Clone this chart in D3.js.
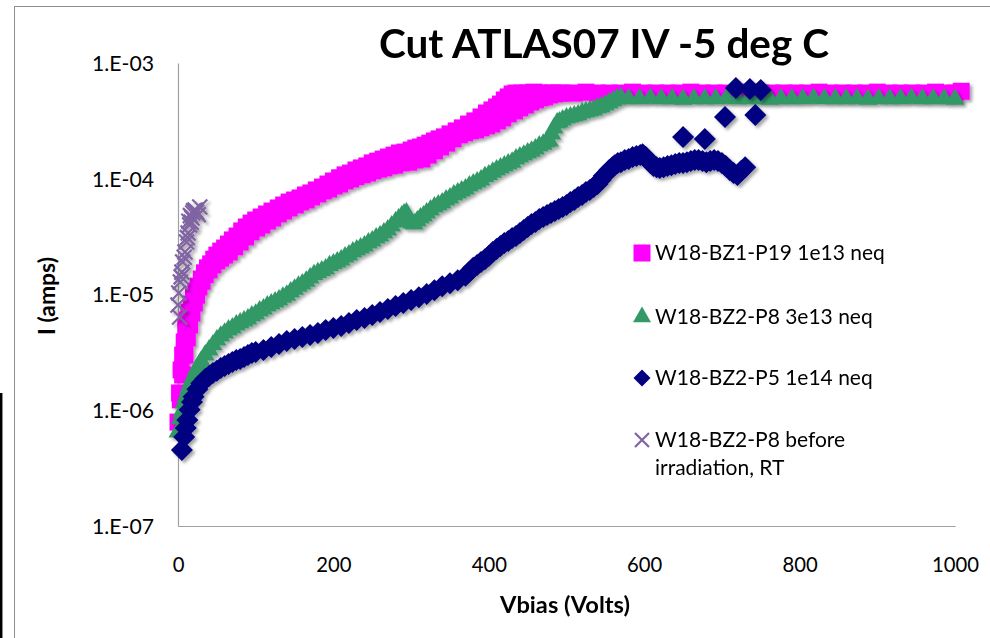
<!DOCTYPE html>
<html>
<head>
<meta charset="utf-8">
<script src="https://cdn.jsdelivr.net/npm/d3@7"></script>
<style>
  body { margin: 0; background: #fff; }
  text { font-family: Lato, 'Open Sans', sans-serif; fill: #000; }
</style>
</head>
<body>
<script>
const width = 990
const height = 638

// W18-BZ1-P19 1e13 neq, first sweep
const pinkV1 = [0, 2, 4, 6, 8, 10, 12, 14, 17, 20, 23, 26, 30, 34, 38, 42, 46, 50, 55, 60,
  65, 70, 76, 82, 88, 94, 100, 107, 114, 121, 129, 136, 143, 150, 157, 164, 171, 178, 186, 193,
  200, 208, 215, 222, 229, 236, 243, 250, 257, 264, 271, 278, 285, 292, 300, 306, 312, 318, 324, 330,
  336, 343, 350, 358, 366, 374, 382, 390, 397, 404, 410, 415, 420, 425, 430, 435,
  442, 450, 458, 466, 474, 482, 490]
const pinkI1 = [7.9e-7, 1.41e-6, 2.23e-6, 3.0e-6, 3.89e-6, 5.14e-6, 6.02e-6, 7.05e-6, 8.27e-6, 9.48e-6,
  1.07e-5, 1.18e-5, 1.36e-5, 1.54e-5, 1.7e-5, 1.84e-5, 2.02e-5, 2.19e-5, 2.37e-5, 2.52e-5,
  2.73e-5, 2.96e-5, 3.2e-5, 3.54e-5, 3.83e-5, 4.14e-5, 4.4e-5, 4.67e-5, 4.96e-5, 5.26e-5,
  5.59e-5, 5.93e-5, 6.29e-5, 6.55e-5, 6.82e-5, 7.24e-5, 7.54e-5, 8.0e-5, 8.48e-5, 9.0e-5,
  9.56e-5, 1.02e-4, 1.08e-4, 1.12e-4, 1.19e-4, 1.24e-4, 1.29e-4, 1.37e-4, 1.42e-4, 1.48e-4,
  1.54e-4, 1.6e-4, 1.67e-4, 1.7e-4, 1.77e-4, 1.84e-4, 1.88e-4, 1.95e-4, 2.03e-4, 2.12e-4,
  2.21e-4, 2.3e-4, 2.44e-4, 2.59e-4, 2.75e-4, 2.97e-4, 3.16e-4, 3.42e-4, 3.7e-4, 3.93e-4,
  4.17e-4, 4.42e-4, 4.79e-4, 5.09e-4, 5.4e-4, 5.5e-4,
  5.5e-4, 5.5e-4, 5.6e-4, 5.5e-4, 5.5e-4, 5.5e-4, 5.5e-4]

// W18-BZ1-P19 1e13 neq, second sweep and compliance plateau
const pinkV2 = [3, 6, 9, 12, 15, 18, 21, 24, 27, 31, 35, 40, 45, 50, 55, 60, 66, 73, 80, 87,
  94, 101, 108, 115, 122, 129, 136, 143, 151, 158, 165, 172, 180, 187, 194, 201, 208, 215, 222, 229,
  237, 244, 251, 258, 265, 272, 279, 288, 297, 305, 314, 322, 330, 338, 346, 354, 362, 369, 376, 383,
  390, 397, 404, 411, 418, 425, 433, 440, 447, 454, 460, 466, 472, 478, 485,
  495, 510, 525, 540, 555, 570, 585, 600, 615, 630, 645, 660, 675, 690, 705, 720, 735, 750, 765, 780,
  795, 810, 825, 840, 855, 870, 885, 900, 915, 930, 945, 960, 975, 990, 1000, 1008]
const pinkI2 = [1.23e-6, 2.02e-6, 3.0e-6, 4.21e-6, 5.45e-6, 6.91e-6, 8.44e-6, 9.86e-6, 1.16e-5, 1.3e-5,
  1.48e-5, 1.63e-5, 1.8e-5, 1.95e-5, 2.06e-5, 2.19e-5, 2.33e-5, 2.58e-5, 2.84e-5, 3.14e-5,
  3.47e-5, 3.75e-5, 3.98e-5, 4.31e-5, 4.58e-5, 4.96e-5, 5.26e-5, 5.59e-5, 5.93e-5, 6.29e-5,
  6.55e-5, 6.96e-5, 7.38e-5, 7.84e-5, 8.15e-5, 8.65e-5, 9.0e-5, 9.56e-5, 9.95e-5, 1.04e-4,
  1.08e-4, 1.12e-4, 1.17e-4, 1.21e-4, 1.24e-4, 1.29e-4, 1.31e-4, 1.37e-4, 1.39e-4, 1.45e-4,
  1.48e-4, 1.6e-4, 1.74e-4, 1.88e-4, 2.03e-4, 2.21e-4, 2.39e-4, 2.49e-4, 2.59e-4, 2.64e-4,
  2.75e-4, 2.86e-4, 2.97e-4, 3.16e-4, 3.35e-4, 3.63e-4, 3.85e-4, 4.09e-4, 4.33e-4, 4.6e-4,
  4.79e-4, 4.99e-4, 5.09e-4, 5.29e-4, 5.4e-4,
  5.5e-4, 5.5e-4, 5.6e-4, 5.5e-4, 5.5e-4, 5.5e-4, 5.6e-4, 5.5e-4, 5.5e-4, 5.5e-4, 5.5e-4, 5.6e-4,
  5.5e-4, 5.5e-4, 5.5e-4, 5.5e-4, 5.6e-4, 5.5e-4, 5.5e-4, 5.5e-4, 5.5e-4, 5.5e-4, 5.6e-4, 5.5e-4,
  5.5e-4, 5.5e-4, 5.5e-4, 5.6e-4, 5.5e-4, 5.5e-4, 5.5e-4, 5.5e-4, 5.6e-4, 5.5e-4, 5.5e-4, 5.7e-4]

// W18-BZ2-P8 3e13 neq
const greenV = [0, 3, 5, 8, 10, 13, 15, 18, 20, 23, 25, 28, 30, 35, 40, 45, 50, 55, 60, 65,
  70, 75, 80, 85, 90, 95, 100, 105, 110, 115, 120, 125, 130, 135, 140, 145, 150, 155, 160, 165,
  170, 175, 180, 185, 190, 195, 200, 205, 210, 215, 220, 225, 230, 235, 240, 245, 250, 255, 260, 265,
  270, 275, 280, 284, 288, 291, 294, 296, 298, 301, 304, 308, 312, 316, 320, 325, 330, 335, 340, 345,
  350, 355, 360, 365, 370, 375, 380, 385, 390, 395, 400, 405, 410, 415, 420, 425, 430, 435, 440, 445,
  450, 455, 460, 465, 470, 474, 478, 481, 484, 488, 491, 495, 500, 505, 510, 515, 520, 525, 530, 535,
  540, 545, 550, 555, 560, 565, 570,
  580, 594, 608, 622, 636, 650, 664, 678, 692, 706, 720, 734, 748, 762, 776, 790, 804, 818, 832, 846,
  860, 874, 888, 902, 916, 930, 944, 958, 972, 986, 1000]
const greenI = [6.49e-7, 8.44e-7, 9.71e-7, 1.16e-6, 1.31e-6, 1.5e-6, 1.65e-6, 1.82e-6, 1.98e-6, 2.19e-6,
  2.32e-6, 2.51e-6, 2.67e-6, 3.0e-6, 3.31e-6, 3.67e-6, 4.05e-6, 4.37e-6, 4.64e-6, 4.93e-6,
  5.14e-6, 5.45e-6, 5.67e-6, 5.9e-6, 6.14e-6, 6.51e-6, 6.77e-6, 7.19e-6, 7.49e-6, 7.95e-6,
  8.27e-6, 8.61e-6, 8.96e-6, 9.48e-6, 9.86e-6, 1.05e-5, 1.11e-5, 1.18e-5, 1.23e-5, 1.3e-5,
  1.39e-5, 1.48e-5, 1.54e-5, 1.6e-5, 1.66e-5, 1.77e-5, 1.84e-5, 1.91e-5, 1.99e-5, 2.11e-5,
  2.19e-5, 2.33e-5, 2.42e-5, 2.52e-5, 2.63e-5, 2.79e-5, 2.9e-5, 3.08e-5, 3.2e-5, 3.4e-5,
  3.61e-5, 3.9e-5, 4.23e-5, 4.49e-5, 4.76e-5, 4.96e-5, 5.06e-5, 4.67e-5, 4.31e-5, 4.14e-5,
  4.06e-5, 4.31e-5, 4.58e-5, 4.76e-5, 5.06e-5, 5.37e-5, 5.7e-5, 5.93e-5, 6.17e-5, 6.55e-5,
  6.82e-5, 7.24e-5, 7.54e-5, 7.84e-5, 8.15e-5, 8.65e-5, 9.0e-5, 9.37e-5, 9.75e-5, 1.04e-4,
  1.08e-4, 1.14e-4, 1.19e-4, 1.24e-4, 1.29e-4, 1.34e-4, 1.39e-4, 1.48e-4, 1.54e-4, 1.6e-4,
  1.67e-4, 1.73e-4, 1.81e-4, 1.92e-4, 1.99e-4, 2.08e-4, 2.12e-4, 2.44e-4, 2.75e-4, 3.03e-4,
  3.09e-4, 3.22e-4, 3.35e-4, 3.42e-4, 3.49e-4, 3.56e-4, 3.7e-4, 3.78e-4, 3.85e-4, 3.93e-4,
  4.09e-4, 4.17e-4, 4.33e-4, 4.51e-4, 4.69e-4, 4.89e-4, 4.99e-4,
  4.9e-4, 4.9e-4, 4.95e-4, 4.9e-4, 4.9e-4, 4.85e-4, 4.9e-4, 4.9e-4, 4.9e-4, 4.95e-4,
  4.9e-4, 4.9e-4, 4.9e-4, 4.85e-4, 4.9e-4, 4.9e-4, 4.9e-4, 4.95e-4, 4.9e-4, 4.9e-4,
  4.9e-4, 4.9e-4, 4.85e-4, 4.9e-4, 4.9e-4, 4.9e-4, 4.95e-4, 4.9e-4, 4.9e-4, 4.9e-4, 4.85e-4]

// W18-BZ2-P5 1e14 neq
const blueV = [5, 8, 10, 12, 15, 18, 20, 25, 30, 35, 40, 45, 50, 55, 60, 65, 70, 75, 80, 85,
  90, 95, 100, 110, 120, 130, 140, 150, 160, 170, 180, 190, 200, 210, 220, 230, 240, 250, 260, 270,
  280, 290, 300, 310, 320, 330, 340, 350, 360, 370, 375, 380, 385, 390, 395, 400, 405, 410, 415, 420,
  425, 430, 435, 440, 445, 450, 455, 460, 465, 470, 475, 480, 485, 490, 495, 500, 505, 510, 515, 520,
  525, 530, 535, 540, 544, 548, 552, 555, 559, 562, 566, 570, 575, 580, 585, 590, 595, 598, 602, 605,
  608, 612, 616, 620, 625, 630, 635, 640, 645, 650, 655, 660, 665, 670, 675, 680, 685, 690, 695, 700,
  705, 710, 715, 720, 725, 730,
  650, 678, 704, 743, 718, 736, 750]
const blueI = [4.53e-7, 5.87e-7, 7.02e-7, 8.23e-7, 1.01e-6, 1.18e-6, 1.31e-6, 1.52e-6, 1.71e-6, 1.86e-6,
  1.98e-6, 2.1e-6, 2.19e-6, 2.32e-6, 2.41e-6, 2.51e-6, 2.61e-6, 2.72e-6, 2.77e-6, 2.88e-6,
  3.0e-6, 3.12e-6, 3.18e-6, 3.31e-6, 3.52e-6, 3.74e-6, 3.97e-6, 4.12e-6, 4.29e-6, 4.46e-6,
  4.64e-6, 4.93e-6, 5.14e-6, 5.34e-6, 5.67e-6, 6.02e-6, 6.26e-6, 6.64e-6, 7.05e-6, 7.49e-6,
  7.95e-6, 8.44e-6, 8.96e-6, 9.48e-6, 1.01e-5, 1.09e-5, 1.18e-5, 1.25e-5, 1.33e-5, 1.45e-5,
  1.57e-5, 1.7e-5, 1.8e-5, 1.91e-5, 2.02e-5, 2.15e-5, 2.33e-5, 2.47e-5, 2.63e-5, 2.79e-5,
  2.9e-5, 3.08e-5, 3.2e-5, 3.4e-5, 3.61e-5, 3.83e-5, 4.06e-5, 4.23e-5, 4.49e-5, 4.67e-5,
  4.86e-5, 5.06e-5, 5.26e-5, 5.48e-5, 5.7e-5, 5.93e-5, 6.29e-5, 6.55e-5, 6.96e-5, 7.24e-5,
  7.69e-5, 8.0e-5, 8.48e-5, 9.0e-5, 9.75e-5, 1.06e-4, 1.12e-4, 1.19e-4, 1.26e-4, 1.31e-4,
  1.37e-4, 1.39e-4, 1.45e-4, 1.48e-4, 1.54e-4, 1.57e-4, 1.6e-4, 1.63e-4, 1.54e-4, 1.45e-4,
  1.37e-4, 1.29e-4, 1.26e-4, 1.24e-4, 1.26e-4, 1.29e-4, 1.31e-4, 1.34e-4, 1.37e-4, 1.37e-4,
  1.39e-4, 1.42e-4, 1.45e-4, 1.45e-4, 1.42e-4, 1.39e-4, 1.42e-4, 1.45e-4, 1.42e-4, 1.37e-4,
  1.29e-4, 1.19e-4, 1.12e-4, 1.08e-4, 1.17e-4, 1.26e-4,
  2.29e-4, 2.2e-4, 3.42e-4, 3.55e-4, 6.08e-4, 5.96e-4, 5.85e-4]

// W18-BZ2-P8 before irradiation, RT
const purpleV = [2, 0, 1, 3, 4, 5, 6, 8, 9, 11, 12, 13, 14, 15, 16, 17, 18, 19, 20, 22, 24, 26, 28]
const purpleI = [6.4e-6, 8.1e-6, 1.03e-5, 1.28e-5, 1.42e-5, 1.56e-5, 1.91e-5, 2.1e-5, 2.33e-5, 2.84e-5,
  3.1e-5, 3.4e-5, 4.3e-5, 3.98e-5, 4.8e-5, 4.2e-5, 4.58e-5, 5.06e-5, 5.3e-5, 5.37e-5, 5.16e-5, 4.9e-5, 5.7e-5]

const legendLabels = [
  ['W18-BZ1-P19 1e13 neq'],
  ['W18-BZ2-P8 3e13 neq'],
  ['W18-BZ2-P5 1e14 neq'],
  ['W18-BZ2-P8 before', 'irradiation, RT']
]
const xTicks = [0, 200, 400, 600, 800, 1000]
const yTicks = [1e-7, 1e-6, 1e-5, 1e-4, 1e-3]

const series = [
  {color: '#ff00ff', shape: 'square', size: 17, data: d3.zip(pinkV1, pinkI1).concat(d3.zip(pinkV2, pinkI2))},
  {color: '#339966', shape: 'triangle', size: 19, data: d3.zip(greenV, greenI)},
  {color: '#000080', shape: 'diamond', size: 22, data: d3.zip(blueV, blueI)},
  {color: '#8064a2', shape: 'cross', size: 15, data: d3.zip(purpleV, purpleI)}
]

const x = d3.scaleLinear().domain([0, 1000]).range([178, 955])
const y = d3.scaleLog().domain([1e-7, 1e-3]).range([526, 63])

const svg = d3.select('body')
    .append('svg')
    .attr('width', width)
    .attr('height', height)

const shadow = svg.append('defs')
    .append('filter')
    .attr('id', 'shadow')
    .attr('filterUnits', 'userSpaceOnUse')
    .attr('x', 0).attr('y', 0)
    .attr('width', width).attr('height', height)
shadow.append('feDropShadow')
    .attr('dx', 2.5).attr('dy', 2.5)
    .attr('stdDeviation', 1.6)
    .attr('flood-color', '#000')
    .attr('flood-opacity', 0.35)

// chart frame, and the stray black edge of the screenshot
svg.append('rect')
    .attr('x', 14.5).attr('y', 6.5)
    .attr('width', 1000).attr('height', 700)
    .attr('fill', 'none')
    .attr('stroke', '#8e8e8e')
svg.append('line')
    .attr('x1', 1.2).attr('x2', 1.2)
    .attr('y1', 393).attr('y2', height)
    .attr('stroke', '#000')
    .attr('stroke-width', 2.5)

function fitSize (sel, target) {
    const fs = parseFloat(sel.attr('font-size'))
    return fs * target / sel.node().getComputedTextLength()
}

// axes
const yAxis = svg.append('g')
    .attr('transform', 'translate(178,0)')
    .call(d3.axisLeft(y)
        .tickValues(yTicks)
        .tickFormat(d => '1.E-' + String(-Math.round(Math.log10(d))).padStart(2, '0'))
        .tickSize(0)
        .tickPadding(24))
const xAxis = svg.append('g')
    .attr('transform', 'translate(0,526)')
    .call(d3.axisBottom(x)
        .tickValues(xTicks)
        .tickFormat(d3.format('d'))
        .tickSize(0))

svg.selectAll('.domain').attr('stroke', '#a0a0a0').attr('stroke-width', 1.2)
svg.selectAll('.tick text').attr('font-family', null).attr('font-size', 20).attr('fill', '#000')

const yLab = yAxis.selectAll('.tick text').attr('dy', '0.35em')
yLab.attr('font-size', fitSize(yLab.filter((d, i) => i === 0), 62))
const xLab = xAxis.selectAll('.tick text').attr('y', 39).attr('dy', '0.35em')
xLab.attr('font-size', fitSize(xLab.filter(d => d === 1000), 47))

// markers
function markerPath (shape, s) {
    const h = s / 2
    if (shape === 'square') return d3.symbol(d3.symbolSquare, s * s)()
    if (shape === 'triangle') return d3.symbol(d3.symbolTriangle, Math.sqrt(3) / 4 * s * s)()
    if (shape === 'diamond') return `M0,${-h}L${h},0L0,${h}L${-h},0Z`
    return `M${-h},${-h}L${h},${h}M${-h},${h}L${h},${-h}`
}

function drawMarker (sel, s, size) {
    sel.attr('d', markerPath(s.shape, size))
    if (s.shape === 'cross') {
        sel.attr('fill', 'none').attr('stroke', s.color).attr('stroke-width', 2.2)
    } else {
        sel.attr('fill', s.color)
    }
}

series.forEach(s => {
    svg.append('g')
        .attr('filter', 'url(#shadow)')
        .selectAll('path')
        .data(s.data)
        .enter()
        .append('path')
        .attr('transform', d => `translate(${x(d[0])},${y(d[1])})`)
        .call(drawMarker, s, s.size)
})

// legend
const legendRows = [253, 317, 378, 440]
const legendSizes = [17, 18, 17, 14]
const legend = svg.append('g')
series.forEach((s, i) => {
    legend.append('path')
        .attr('transform', `translate(642,${legendRows[i]})`)
        .call(drawMarker, s, legendSizes[i])
    legendLabels[i].forEach((line, j) => {
        legend.append('text')
            .attr('class', 'legend-text')
            .attr('x', 655)
            .attr('y', legendRows[i] + j * 28)
            .attr('dy', '0.35em')
            .attr('font-size', 20)
            .text(line)
    })
})
const legendText = legend.selectAll('.legend-text')
legendText.attr('font-size', fitSize(legendText.filter((d, i) => i === 0), 230))

// titles
const title = svg.append('text')
    .attr('x', 604).attr('y', 58)
    .attr('text-anchor', 'middle')
    .attr('font-weight', 'bold')
    .attr('font-size', 40)
    .text('Cut ATLAS07 IV -5 deg C')
title.attr('font-size', fitSize(title, 450))

const xTitle = svg.append('text')
    .attr('x', 565).attr('y', 605)
    .attr('dy', '0.35em')
    .attr('text-anchor', 'middle')
    .attr('font-weight', 'bold')
    .attr('font-size', 22)
    .text('Vbias (Volts)')
xTitle.attr('font-size', fitSize(xTitle, 130))

const yTitle = svg.append('text')
    .attr('transform', 'translate(47,296) rotate(-90)')
    .attr('dy', '0.35em')
    .attr('text-anchor', 'middle')
    .attr('font-weight', 'bold')
    .attr('font-size', 22)
    .text('I (amps)')
yTitle.attr('font-size', fitSize(yTitle, 78))
</script>
</body>
</html>
